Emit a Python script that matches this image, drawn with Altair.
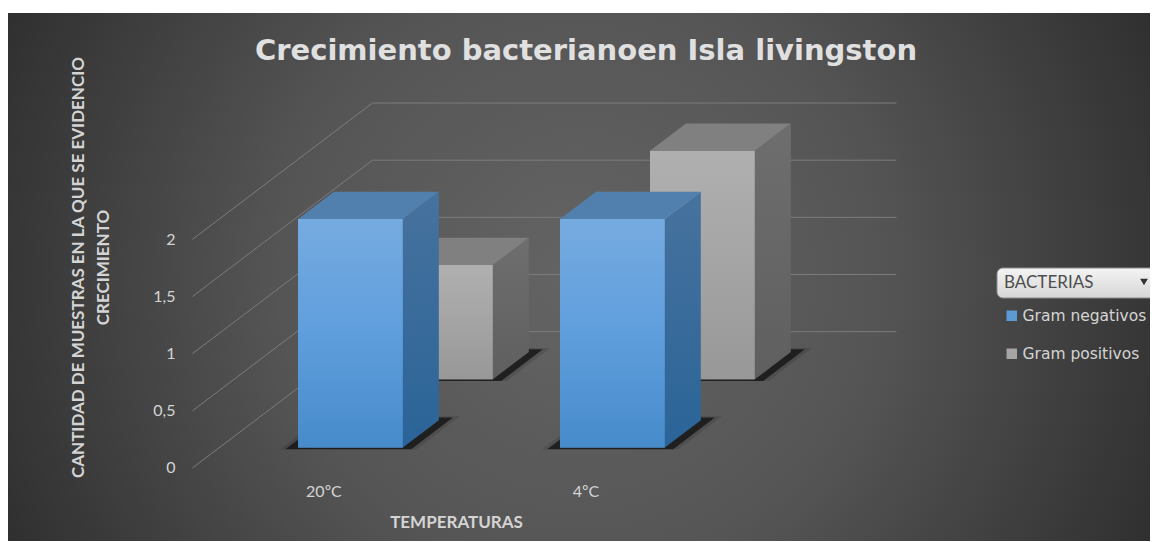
import altair as alt
import pandas as pd

# ---- chart values
CATEGORIES = ["20ºC", "4ºC"]
GRAM_NEG = [2, 2]
GRAM_POS = [1, 2]
SERIES = ["Gram negativos", "Gram positivos"]
Y_TICKS = [0, 0.5, 1, 1.5, 2]
TITLE = "Crecimiento bacterianoen Isla livingston"
Y_TITLE = ["CANTIDAD DE MUESTRAS EN LA QUE SE EVIDENCIO", "CRECIMIENTO"]
X_TITLE = "TEMPERATURAS"
LEGEND_TITLE = "BACTERIAS"

# ---- oblique projection (depth 0 = front of floor, depth 1 = back wall)
W, H = 1142, 533
DEPTH_X, DEPTH_Y = 0.687, 1.1925
X_DOMAIN = [-1.204, 3.155]
Y_DOMAIN = [-0.639, 4.024]
HALF = 0.2
SERIES_DEPTH = {SERIES[0]: 0.25, SERIES[1]: 0.75}
HALF_DEPTH = 0.1


def sx(u, d):
    return u + d * DEPTH_X


def sy(v, d):
    return v + d * DEPTH_Y


def grad(stops, x1=0, y1=0, x2=0, y2=1):
    return alt.LinearGradient(
        gradient="linear", x1=x1, y1=y1, x2=x2, y2=y2,
        stops=[alt.GradientStop(offset=o, color=c) for o, c in stops],
    )


TEXT = "#d4d4d4"
labels_expr = "datum.value == 0 ? '%s' : '%s'" % (CATEGORIES[0], CATEGORIES[1])

xs = alt.Scale(domain=X_DOMAIN, nice=False, zero=False)
ys = alt.Scale(domain=Y_DOMAIN, nice=False, zero=False)
x_axis = alt.Axis(
    values=[0, 1], labelExpr=labels_expr, domain=False, ticks=False, grid=False,
    labelColor=TEXT, labelFont="Lato", labelFontSize=16, labelPadding=0,
    offset=-58, zindex=1, title=X_TITLE, titleColor=TEXT, titleFont="Lato",
    titleFontSize=17, titleFontWeight="bold", titleAlign="center", titleBaseline="middle",
    titleX=448, titleY=39, labelFlush=False, labelOverlap=False,
)
y_axis = alt.Axis(
    values=Y_TICKS, labelExpr="replace(format(datum.value, '.1~f'), '.', ',')",
    domain=False, ticks=False,
    grid=False, labelColor=TEXT, labelFont="Lato", labelFontSize=16, labelPadding=0,
    offset=-167, zindex=1, title=Y_TITLE, titleColor=TEXT, titleFont="Lato",
    titleFontSize=17, titleFontWeight="bold", titleAngle=270, titleAlign="center",
    titleBaseline="middle", titleX=-97, titleY=259, titleLineHeight=25,
    labelOverlap=False,
)
X = alt.X("x:Q", scale=xs, axis=x_axis)
Y = alt.Y("y:Q", scale=ys, axis=y_axis)
X2 = alt.X2("x2:Q")
Y2 = alt.Y2("y2:Q")

# background
bg_df = pd.DataFrame({"x": [X_DOMAIN[0]], "x2": [X_DOMAIN[1]], "y": [Y_DOMAIN[0]], "y2": [3.98]})
bg = alt.Chart(bg_df).mark_rect(
    color=alt.RadialGradient(
        gradient="radial", x1=0.5, y1=0.5, x2=0.5, y2=0.5, r1=0, r2=0.58,
        stops=[alt.GradientStop(offset=0, color="#646464"),
               alt.GradientStop(offset=0.45, color="#555555"),
               alt.GradientStop(offset=1, color="#2c2c2c")],
    )
).encode(x=X, x2=X2, y=Y, y2=Y2)

# walls / gridlines
grid_rows = []
for v in Y_TICKS:
    for order, (u, d) in enumerate([(-0.5, 0), (-0.5, 1), (1.5, 1)]):
        grid_rows.append({"tick": v, "order": order, "x": sx(u, d), "y": sy(v, d)})
grid = alt.Chart(pd.DataFrame(grid_rows)).mark_line(color="#7c7c7c", strokeWidth=1).encode(
    x=X, y=Y, detail="tick:N", order="order:O",
)

layers = [bg, grid]

STYLE = {
    SERIES[0]: dict(
        front=[(0, "#76ABE0"), (0.5, "#5F9EDD"), (1, "#478BCB")],
        side=[(0, "#47729E"), (1, "#2A6498")],
        top="#5280AE",
    ),
    SERIES[1]: dict(
        front=[(0, "#B0B0B0"), (1, "#989898")],
        side=[(0, "#6E6E6E"), (1, "#5F5F5F")],
        top="#808080",
    ),
}
COLOR_RANGE = ["#5B9BD5", "#A5A5A5"]


def bar_layers(series, values):
    out = []
    dc = SERIES_DEPTH[series]
    d0, d1 = dc - HALF_DEPTH, dc + HALF_DEPTH
    st = STYLE[series]
    for i, val in enumerate(values):
        # soft floor shadow
        for extra, op in [(0.06, 0.14), (0.04, 0.7)]:
            sh = pd.DataFrame([
                {"y": sy(0, d), "x": sx(i - HALF - extra, d), "x2": sx(i + HALF + extra, d)}
                for d in (d0 - 0.012, d1 + extra * 0.5)
            ])
            out.append(alt.Chart(sh).mark_area(orient="horizontal", color="#0c0c0c", opacity=op)
                       .encode(y=Y, x=X, x2=X2))
    for i, val in enumerate(values):
        front = pd.DataFrame([{
            "x": sx(i - HALF, d0), "x2": sx(i + HALF, d0),
            "y": sy(0, d0), "y2": sy(val, d0), "serie": series,
        }])
        out.append(alt.Chart(front).mark_rect().encode(
            x=X, x2=X2, y=Y, y2=Y2,
            color=alt.Color("serie:N", scale=alt.Scale(domain=SERIES, range=COLOR_RANGE),
                            legend=alt.Legend(
                                title=LEGEND_TITLE, orient="none", legendX=989, legendY=260,
                                symbolType="square", symbolSize=110, symbolStrokeWidth=0,
                                titleColor="#4d4d4d", titleFont="Lato", titleFontSize=17,
                                titleFontWeight="normal", titlePadding=16,
                                labelColor=TEXT, labelFont="DejaVu Sans", labelFontSize=15.5,
                                labelOffset=3, rowPadding=21, padding=7,
                            )),
        ))
        out.append(alt.Chart(front).mark_rect(color=grad(st["front"])).encode(x=X, x2=X2, y=Y, y2=Y2))
        side = pd.DataFrame([
            {"x": sx(i + HALF, d), "y": sy(0, d), "y2": sy(val, d)} for d in (d0, d1)
        ])
        out.append(alt.Chart(side).mark_area(color=grad(st["side"])).encode(x=X, y=Y, y2=Y2))
        top = pd.DataFrame([
            {"y": sy(val, d), "x": sx(i - HALF, d), "x2": sx(i + HALF, d)} for d in (d0, d1)
        ])
        out.append(alt.Chart(top).mark_area(orient="horizontal", color=st["top"]).encode(
            y=Y, x=X, x2=X2))
    return out


layers += bar_layers(SERIES[1], GRAM_POS)
layers += bar_layers(SERIES[0], GRAM_NEG)

# legend header button, under the legend title
button = alt.Chart(pd.DataFrame({"a": [0]})).mark_rect(
    cornerRadius=6, stroke="#8a8a8a", strokeWidth=1,
    color=grad([(0, "#f4f4f4"), (1, "#d6d6d6")]),
).encode(x=alt.value(989), x2=alt.value(1156), y=alt.value(260), y2=alt.value(290))
arrow = alt.Chart(pd.DataFrame({"a": [0]})).mark_point(
    shape="triangle-down", filled=True, color="#333333", size=60, opacity=1,
).encode(x=alt.value(1136), y=alt.value(274))
layers += [button, arrow]

chart = alt.layer(*layers).properties(
    width=W, height=H, padding=0, autosize=alt.AutoSizeParams(type="none"),
    background="#ffffff",
    title=alt.TitleParams(
        TITLE, font="DejaVu Sans", fontSize=29, fontWeight="bold", color="#e0e0e0",
        anchor="middle", frame="group", dx=7, dy=62,
    ),
).configure_view(stroke=None)

chart.save("out.html", embed_options={"renderer": "svg", "actions": False})
